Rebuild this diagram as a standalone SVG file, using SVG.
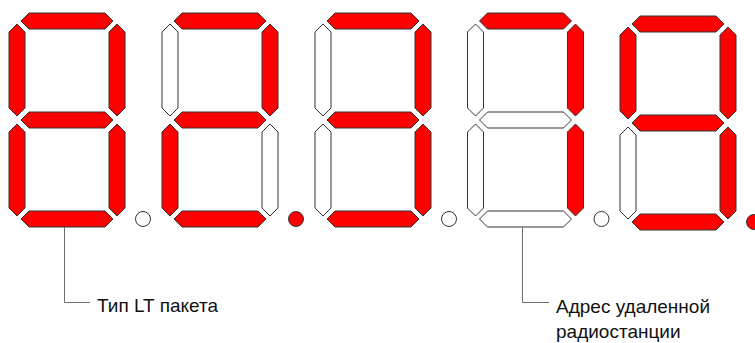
<svg xmlns="http://www.w3.org/2000/svg" xmlns:xlink="http://www.w3.org/1999/xlink" width="755" height="343" viewBox="0 0 755 343">
  <style>
    .on { fill: #ff0000; }
    .off { fill: #ffffff; }
    .seg { stroke: #333333; stroke-width: 1; stroke-linejoin: miter; }
    .lead { fill: none; stroke: #6e6e6e; stroke-width: 1; }
    .lbl { font-family: "Liberation Sans", Arial, sans-serif; font-size: 19px; fill: #111111; }
  </style>
  <defs>
    <polygon id="sa" points="21,21 29,13 105,13 113,21 105,29 29,29"/>
    <polygon id="sg" points="21,120 29,112 105,112 113,120 105,128 29,128"/>
    <polygon id="sd" points="21,219 29,211 105,211 113,219 105,227 29,227"/>
    <polygon id="sf" points="17,24 25,32 25,108 17,116 9,108 9,32"/>
    <polygon id="sb" points="117,24 125,32 125,108 117,116 109,108 109,32"/>
    <polygon id="se" points="17,124 25,132 25,208 17,216 9,208 9,132"/>
    <polygon id="sc" points="117,124 125,132 125,208 117,216 109,208 109,132"/>
    <circle id="sdp" cx="143" cy="219" r="7.5"/>
  </defs>

  <g id="digit1" class="seg">
    <use xlink:href="#sa" class="on"/>
    <use xlink:href="#sb" class="on"/>
    <use xlink:href="#sc" class="on"/>
    <use xlink:href="#sd" class="on"/>
    <use xlink:href="#se" class="on"/>
    <use xlink:href="#sf" class="on"/>
    <use xlink:href="#sg" class="on"/>
    <use xlink:href="#sdp" class="off"/>
  </g>

  <g id="digit2" class="seg" transform="translate(153,0)">
    <use xlink:href="#sa" class="on"/>
    <use xlink:href="#sb" class="on"/>
    <use xlink:href="#sc" class="off"/>
    <use xlink:href="#sd" class="on"/>
    <use xlink:href="#se" class="on"/>
    <use xlink:href="#sf" class="off"/>
    <use xlink:href="#sg" class="on"/>
    <use xlink:href="#sdp" class="on"/>
  </g>

  <g id="digit3" class="seg" transform="translate(306,0)">
    <use xlink:href="#sa" class="on"/>
    <use xlink:href="#sb" class="on"/>
    <use xlink:href="#sc" class="on"/>
    <use xlink:href="#sd" class="on"/>
    <use xlink:href="#se" class="off"/>
    <use xlink:href="#sf" class="off"/>
    <use xlink:href="#sg" class="on"/>
    <use xlink:href="#sdp" class="off"/>
  </g>

  <g id="digit4" class="seg" transform="translate(458.5,0)">
    <use xlink:href="#sa" class="on"/>
    <use xlink:href="#sb" class="on"/>
    <use xlink:href="#sc" class="on"/>
    <use xlink:href="#sd" class="off"/>
    <use xlink:href="#se" class="off"/>
    <use xlink:href="#sf" class="off"/>
    <use xlink:href="#sg" class="off"/>
    <use xlink:href="#sdp" class="off"/>
  </g>

  <g id="digit5" class="seg" transform="translate(611,3)">
    <use xlink:href="#sa" class="on"/>
    <use xlink:href="#sb" class="on"/>
    <use xlink:href="#sc" class="on"/>
    <use xlink:href="#sd" class="on"/>
    <use xlink:href="#se" class="off"/>
    <use xlink:href="#sf" class="on"/>
    <use xlink:href="#sg" class="on"/>
    <use xlink:href="#sdp" class="on"/>
  </g>

  <g id="connectors">
    <polyline class="lead" points="64.5,227 64.5,302.5 90,302.5"/>
    <polyline class="lead" points="522.5,227 522.5,302.5 549,302.5"/>
  </g>

  <g id="label1">
    <text class="lbl" x="97" y="312">Тип LT пакета</text>
  </g>
  <g id="label2">
    <text class="lbl" x="556" y="312.5">Адрес удаленной</text>
    <text class="lbl" x="556" y="338">радиостанции</text>
  </g>
</svg>
